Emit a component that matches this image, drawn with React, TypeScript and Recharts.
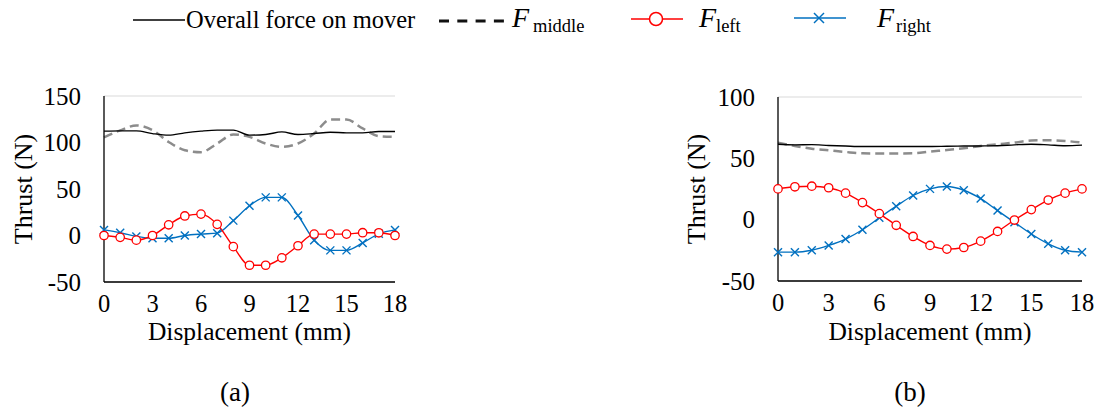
import React from "react";
import {
  LineChart,
  Line,
  XAxis,
  YAxis,
  CartesianGrid,
} from "recharts";

// ---------- data ----------
const displacement = [0, 1, 2, 3, 4, 5, 6, 7, 8, 9, 10, 11, 12, 13, 14, 15, 16, 17, 18];
const xTicks = [0, 3, 6, 9, 12, 15, 18];

// (a)
const overallA = [112.2, 112.5, 112.5, 109.6, 107.9, 110.4, 112.2, 113.3, 113.3, 107.9, 108.6, 111.4, 108.6, 109.6, 111, 110.4, 110.4, 111.8, 111.8];
const middleA = [105.4, 113, 118.3, 113.3, 100.6, 91.7, 89.6, 98.9, 108.6, 106, 98.9, 95.3, 98.9, 109.6, 124.8, 124.8, 115.1, 106.8, 106];
const leftA = [0, -2, -5, 0, 11.5, 21, 23, 12, -12, -32, -32, -24, -11, 1.5, 1.5, 1.5, 3, 2.9, 0];
const rightA = [6, 3, -1, -3, -3, 0, 1.5, 2.5, 16, 32, 41, 41, 21.5, -5, -16, -16, -8, 1.8, 6];
const yTicksA = [-50, 0, 50, 100, 150];

// (b)
const overallB = [61.5, 61, 61.2, 60.5, 60, 59.6, 59.6, 59.6, 59.6, 59.6, 59.8, 60, 60.1, 60.3, 61, 61.5, 61, 60.3, 60.8];
const middleB = [62.8, 60.1, 57.9, 56.6, 55.2, 54.1, 54, 54, 54.1, 55.5, 56.8, 58.2, 60.1, 61.5, 62.8, 64.5, 64.8, 64.2, 62.8];
const leftB = [25.1, 26.8, 27.3, 26, 21.6, 13.9, 4.9, -4.6, -13.7, -21, -24, -22.7, -17.5, -9.6, -0.3, 8.2, 16, 21.6, 25.1];
const rightB = [-26.5, -26.5, -24.9, -21, -15.8, -8.2, 1.5, 11, 19.7, 25.1, 27, 24, 17.2, 7.4, -2.2, -11.7, -19.7, -24.9, -26.5];
const yTicksB = [-50, 0, 50, 100];

const build = (o: number[], m: number[], l: number[], r: number[]) =>
  displacement.map((x, i) => ({ x, overall: o[i], middle: m[i], left: l[i], right: r[i] }));

const dataA = build(overallA, middleA, leftA, rightA);
const dataB = build(overallB, middleB, leftB, rightB);

// ---------- styles ----------
const FONT = "'Liberation Serif', 'Times New Roman', serif";
const RED = "#FF0000";
const BLUE = "#0070C0";
const GREY = "#8C8C8C";

const XTick = (props: any) => {
  const { x, y, payload } = props;
  return (
    <text x={x} y={y + 30} textAnchor="middle" fontSize={24.5} fontFamily={FONT} fill="#000">
      {payload.value}
    </text>
  );
};

const YTick = (props: any) => {
  const { x, y, payload } = props;
  return (
    <text x={x - 23} y={y + 8.5} textAnchor="end" fontSize={25} fontFamily={FONT} fill="#000">
      {payload.value}
    </text>
  );
};

const YTitle = (props: any) => {
  const vb = props.viewBox || {};
  const cy = vb.height ? vb.y + vb.height / 2 : 189;
  const cx = props.cx;
  return (
    <text
      x={cx}
      y={cy}
      transform={`rotate(-90, ${cx}, ${cy})`}
      textAnchor="middle"
      dominantBaseline="central"
      fontSize={26}
      fontFamily={FONT}
      fill="#000"
    >
      Thrust (N)
    </text>
  );
};

const XTitle = (props: any) => {
  const vb = props.viewBox || {};
  const cx = vb.width ? vb.x + vb.width / 2 : props.fallbackX;
  return (
    <text x={cx} y={340} textAnchor="middle" fontSize={25.5} fontFamily={FONT} fill="#000">
      Displacement (mm)
    </text>
  );
};

const CircleDot = (props: any) => {
  const { cx, cy, index } = props;
  if (cx == null || cy == null) return null;
  return <circle key={`c-${index}`} cx={cx} cy={cy} r={4.2} fill="#fff" stroke={RED} strokeWidth={1.3} />;
};

const CrossDot = (props: any) => {
  const { cx, cy, index } = props;
  if (cx == null || cy == null) return null;
  const s = 4;
  return (
    <g key={`x-${index}`}>
      <line x1={cx - s} y1={cy - s} x2={cx + s} y2={cy + s} stroke={BLUE} strokeWidth={1.4} />
      <line x1={cx - s} y1={cy + s} x2={cx + s} y2={cy - s} stroke={BLUE} strokeWidth={1.4} />
    </g>
  );
};

type PanelProps = {
  data: any[];
  yTicks: number[];
  width: number;
  margin: { top: number; right: number; left: number; bottom: number };
  yAxisWidth: number;
  xAxisHeight: number;
  titleX: number;
};

const Panel = ({ data, yTicks, width, margin, yAxisWidth, xAxisHeight, titleX }: PanelProps) => {
  const domain: [number, number] = [yTicks[0], yTicks[yTicks.length - 1]];
  return (
    <LineChart width={width} height={416} data={data} margin={margin}>
      <CartesianGrid vertical={false} stroke="#D9D9D9" strokeWidth={1.2} />
      <XAxis
        xAxisId="main"
        dataKey="x"
        type="number"
        domain={[0, 18]}
        ticks={xTicks}
        height={xAxisHeight}
        tickSize={0}
        tickMargin={0}
        tickLine={false}
        axisLine={{ stroke: "#000", strokeWidth: 1.3 }}
        tick={<XTick />}
        interval={0}
        label={<XTitle />}
      />
      <XAxis
        xAxisId="top"
        orientation="top"
        dataKey="x"
        type="number"
        domain={[0, 18]}
        height={0}
        tick={false}
        tickLine={false}
        axisLine={{ stroke: "#000", strokeWidth: 1.3 }}
      />
      <YAxis
        yAxisId="main"
        type="number"
        domain={domain}
        ticks={yTicks}
        width={yAxisWidth}
        tickSize={0}
        tickMargin={0}
        tickLine={false}
        axisLine={{ stroke: "#000", strokeWidth: 1.3 }}
        tick={<YTick />}
        interval={0}
        label={<YTitle cx={titleX} />}
      />
      <YAxis
        yAxisId="right"
        orientation="right"
        type="number"
        domain={domain}
        width={0}
        tick={false}
        tickLine={false}
        axisLine={{ stroke: "#000", strokeWidth: 1.3 }}
      />
      <Line
        xAxisId="main"
        yAxisId="main"
        type="monotone"
        dataKey="middle"
        stroke={GREY}
        strokeWidth={2.5}
        strokeDasharray="9 5"
        dot={false}
        isAnimationActive={false}
      />
      <Line
        xAxisId="main"
        yAxisId="main"
        type="monotone"
        dataKey="overall"
        stroke="#000"
        strokeWidth={1.4}
        dot={false}
        isAnimationActive={false}
      />
      <Line
        xAxisId="main"
        yAxisId="main"
        type="monotone"
        dataKey="right"
        stroke={BLUE}
        strokeWidth={1.4}
        dot={<CrossDot />}
        isAnimationActive={false}
      />
      <Line
        xAxisId="main"
        yAxisId="main"
        type="monotone"
        dataKey="left"
        stroke={RED}
        strokeWidth={1.4}
        dot={<CircleDot />}
        isAnimationActive={false}
      />
    </LineChart>
  );
};

const Overlay = () => (
  <svg
    width={1101}
    height={416}
    style={{ position: "absolute", left: 0, top: 0, pointerEvents: "none" }}
    fontFamily={FONT}
  >
    {/* legend */}
    <line x1={133} x2={185} y1={20} y2={20} stroke="#000" strokeWidth={1.5} />
    <text x={186} y={28} fontSize={24.5} fill="#000">Overall force on mover</text>

    <line x1={439} x2={504} y1={21} y2={21} stroke="#111" strokeWidth={3} strokeDasharray="10 8.3" />
    <text x={512} y={27} fontSize={28} fontStyle="italic" fill="#000">F</text>
    <text x={533} y={32} fontSize={18.5} fill="#000">middle</text>

    <line x1={631} x2={683} y1={19} y2={19} stroke={RED} strokeWidth={1.5} />
    <circle cx={656} cy={19} r={6.5} fill="#fff" stroke={RED} strokeWidth={1.5} />
    <text x={699} y={27} fontSize={28} fontStyle="italic" fill="#000">F</text>
    <text x={716} y={32} fontSize={18.5} fill="#000">left</text>

    <line x1={794} x2={846} y1={18} y2={18} stroke={BLUE} strokeWidth={1.5} />
    <line x1={814} x2={824} y1={13} y2={23} stroke={BLUE} strokeWidth={1.5} />
    <line x1={814} x2={824} y1={23} y2={13} stroke={BLUE} strokeWidth={1.5} />
    <text x={877} y={27} fontSize={28} fontStyle="italic" fill="#000">F</text>
    <text x={896} y={32} fontSize={18.5} fill="#000">right</text>

    {/* panel captions */}
    <text x={235} y={401} textAnchor="middle" fontSize={27} fill="#000">(a)</text>
    <text x={910} y={401} textAnchor="middle" fontSize={27} fill="#000">(b)</text>
  </svg>
);

export default function App() {
  return (
    <div
      style={{
        position: "absolute",
        left: 0,
        top: 0,
        width: 1101,
        height: 416,
        background: "#fff",
        overflow: "hidden",
        fontFamily: FONT,
      }}
    >
      <div style={{ position: "absolute", left: 0, top: 0 }}>
        <Panel
          data={dataA}
          yTicks={yTicksA}
          width={420}
          margin={{ top: 96, right: 25, left: 0, bottom: 0 }}
          yAxisWidth={104}
          xAxisHeight={134}
          titleX={23}
        />
      </div>
      <div style={{ position: "absolute", left: 680, top: 0 }}>
        <Panel
          data={dataB}
          yTicks={yTicksB}
          width={421}
          margin={{ top: 97, right: 19, left: 0, bottom: 0 }}
          yAxisWidth={98}
          xAxisHeight={135}
          titleX={16}
        />
      </div>
      <Overlay />
    </div>
  );
}
